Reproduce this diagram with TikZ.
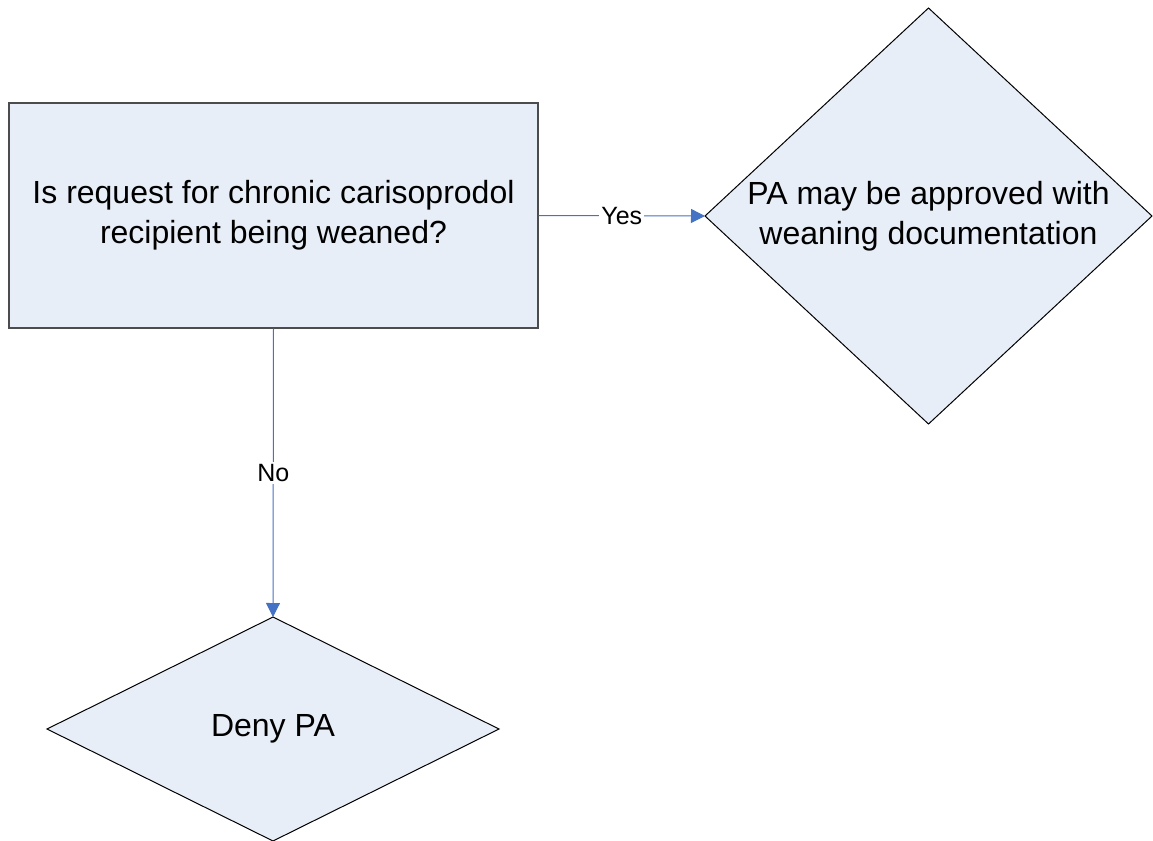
\documentclass[tikz,border=0pt]{standalone}
\usepackage{fontspec}
\setmainfont{Liberation Sans}
\usetikzlibrary{shapes.geometric,arrows.meta}

\definecolor{boxfill}{HTML}{E8EEF7}
\definecolor{flowblue}{HTML}{4472C4}

\tikzset{
  stepbox/.style={draw=black!70, fill=boxfill, line width=0.6pt, inner sep=0pt,
    align=center, font=\fontsize{16}{20}\selectfont},
  choice/.style={diamond, draw=black, fill=boxfill, line width=0.5pt, inner sep=0pt,
    outer sep=0pt, align=center, font=\fontsize{16}{20}\selectfont},
  flow/.style={draw=flowblue, line width=0.5pt, -{Triangle[length=7pt,width=7pt]}},
  flowlabel/.style={fill=white, inner sep=1pt, font=\fontsize{12.5}{14}\selectfont}
}

\begin{document}
\begin{tikzpicture}[x=0.5pt, y=-0.5pt]
		%%%%% START %%%%%
		\useasboundingbox (0,0) rectangle (1153,841);
		
		\node[stepbox, minimum width=264.5pt, minimum height=112.5pt] (ask) at (273.5,215.5)
			{Is request for chronic carisoprodol\\recipient being weaned?};
		
		\node[choice, aspect=1.08, minimum width=223.5pt, minimum height=208pt] (approve) at (928.5,216)
			{PA may be approved with\\weaning documentation};
		
		\node[choice, aspect=2, minimum width=226pt, minimum height=112pt] (deny) at (273,729)
			{Deny PA};
		
		\draw[flow] (ask.east) -- node[flowlabel] {Yes} (approve.west);
		\draw[flow] (ask.south) -- node[flowlabel] {No} (deny.north);
		
		%%%%% END %%%%%
	\end{tikzpicture}
\end{document}
